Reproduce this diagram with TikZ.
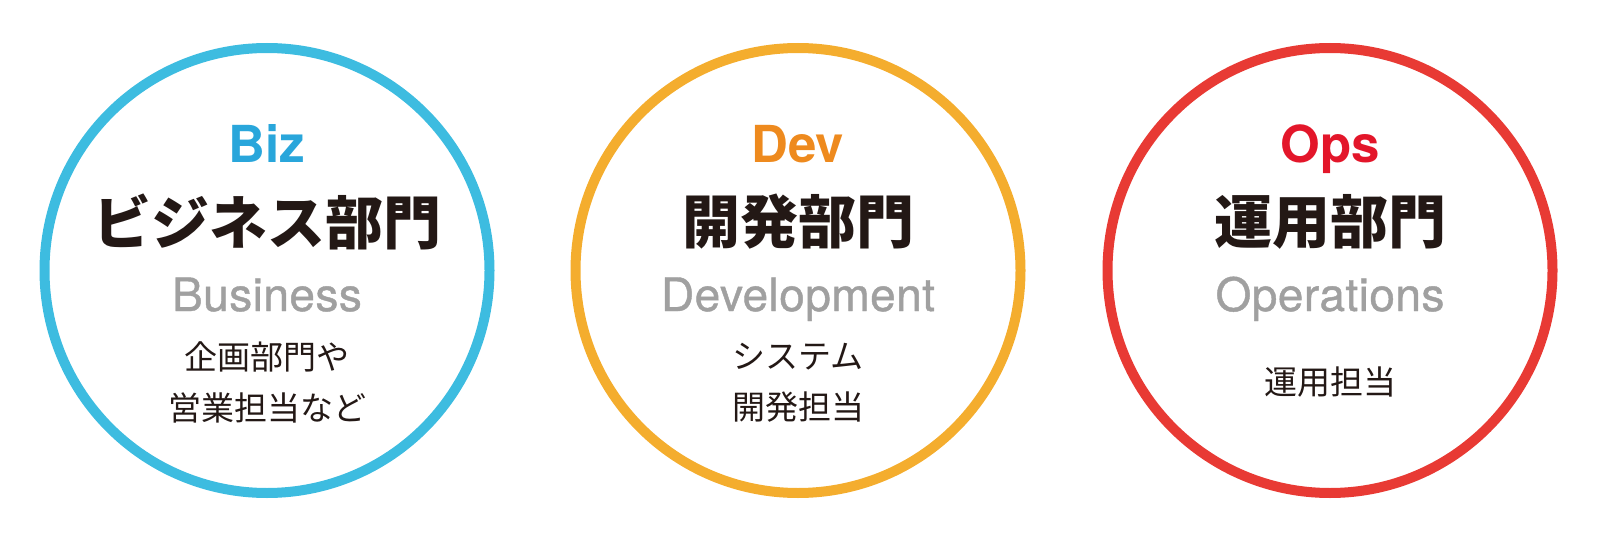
\documentclass[tikz,border=0pt]{standalone}
\usepackage{fontspec}
\setmainfont{TeX Gyre Heros}
\newfontfamily\jpfont{Noto Sans CJK JP}
\newfontfamily\engfont{TeX Gyre Heros}[FakeBold=0.9,LetterSpace=1]
\definecolor{bizc}{HTML}{3DBCE0}
\definecolor{biztext}{HTML}{29A6DB}
\definecolor{devc}{HTML}{F4AD2E}
\definecolor{devtext}{HTML}{EE8A1E}
\definecolor{opsc}{HTML}{E83A34}
\definecolor{opstext}{HTML}{E3162A}
\definecolor{engray}{HTML}{A0A0A0}
\definecolor{ink}{HTML}{231815}
\tikzset{
  ring/.style={line width=10pt},
  headtxt/.style={font=\fontsize{51}{51}\selectfont\bfseries, anchor=base, inner sep=0pt},
  titletxt/.style={font=\jpfont\bfseries\fontsize{58}{58}\selectfont, text=ink, inner sep=0pt},
  engtxt/.style={font=\engfont\fontsize{46}{46}\selectfont, text=engray, anchor=base, inner sep=0pt},
  desctxt/.style={font=\jpfont\fontsize{33}{51}\selectfont, text=ink, align=center, inner sep=0pt}
}
\begin{document}
\begin{tikzpicture}[x=1pt,y=-1pt]
\useasboundingbox (0,0) rectangle (1600,548);
% circles
\draw[ring, bizc] (267,270.5) circle (222.5);
\draw[ring, devc] (798,270.5) circle (222.5);
\draw[ring, opsc] (1330,270.5) circle (222.5);
% Biz
\node[headtxt, text=biztext] (bizh) at (267,163) {Biz};
\node[titletxt] (bizt) at (267,222) {ビジネス部門};
\node[engtxt] (bize) at (267,311) {Business};
\node[desctxt] (bizd) at (267,382.5) {企画部門や\\営業担当など};
% Dev
\node[headtxt, text=devtext] (devh) at (798,163) {Dev};
\node[titletxt] (devt) at (798,222) {開発部門};
\node[engtxt] (deve) at (798,311) {Development};
\node[desctxt] (devd) at (798,382.5) {システム\\開発担当};
% Ops
\node[headtxt, text=opstext] (opsh) at (1330,163) {Ops};
\node[titletxt] (opst) at (1330,222) {運用部門};
\node[engtxt] (opse) at (1330,311) {Operations};
\node[desctxt] (opsd) at (1330,382) {運用担当};
\end{tikzpicture}
\end{document}
